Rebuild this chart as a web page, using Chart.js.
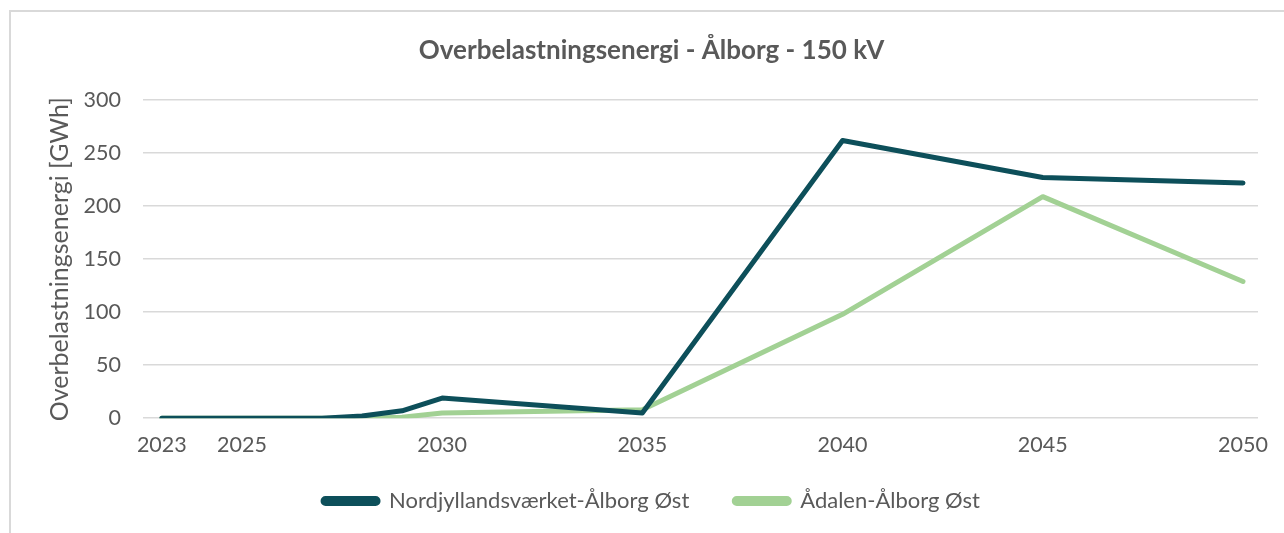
<!DOCTYPE html>
<html>
<head>
<meta charset="utf-8">
<script src="https://cdn.jsdelivr.net/npm/chart.js@4/dist/chart.umd.min.js"></script>
<style>
  body { margin: 0; background: #fff; }
  #wrap { position: absolute; left: 9px; top: 10px; width: 1285px; height: 530px; border: 2px solid #d9d9d9; }
  canvas { display: block; }
</style>
</head>
<body>
<div id="wrap"><canvas id="chart" width="1275" height="523"></canvas></div>
<script>
// values (GWh)
const nordYears = [2023, 2025, 2027, 2028, 2029, 2030, 2035, 2040, 2045, 2050];
const nordValues = [0, 0, 0, 2, 7, 19, 5, 262, 227, 222];
const aadalenYears = [2023, 2025, 2027, 2028, 2029, 2030, 2035, 2040, 2045, 2050];
const aadalenValues = [0, 0, 0, 0, 1, 5, 8, 98, 209, 129];
const xTicks = [2023, 2025, 2030, 2035, 2040, 2045, 2050];

const textColor = '#595959';
const fontFamily = 'Lato, "Open Sans", sans-serif';

const toPoints = (xs, ys) => xs.map((x, i) => ({x: x, y: ys[i]}));

new Chart(document.getElementById('chart'), {
    type: 'line',
    data: {
        datasets: [
            {
                label: 'Nordjyllandsværket-Ålborg Øst',
                data: toPoints(nordYears, nordValues),
                borderColor: '#0d4f5a',
                backgroundColor: '#0d4f5a',
                borderWidth: 5,
                pointRadius: 0,
                tension: 0,
                borderCapStyle: 'round',
                borderJoinStyle: 'round'
            },
            {
                label: 'Ådalen-Ålborg Øst',
                data: toPoints(aadalenYears, aadalenValues),
                borderColor: '#a2d194',
                backgroundColor: '#a2d194',
                borderWidth: 5,
                pointRadius: 0,
                tension: 0,
                borderCapStyle: 'round',
                borderJoinStyle: 'round'
            }
        ]
    },
    options: {
        responsive: false,
        animation: false,
        layout: {padding: {left: 34, right: 28, top: 19, bottom: 13}},
        plugins: {
            title: {
                display: true,
                text: 'Overbelastningsenergi - Ålborg - 150 kV',
                color: textColor,
                font: {family: fontFamily, size: 26, weight: 'bold'},
                padding: {top: 4, bottom: 34}
            },
            legend: {
                position: 'bottom',
                // empty title with negative padding: pulls the legend box up
                // under the tick labels without moving the legend items
                title: {
                    display: true,
                    text: '',
                    font: {size: 1, lineHeight: 1},
                    padding: {top: -20, bottom: 0}
                },
                labels: {
                    color: textColor,
                    font: {family: fontFamily, size: 22},
                    boxWidth: 55,
                    boxHeight: 5,
                    useBorderRadius: true,
                    borderRadius: 2.5,
                    padding: 45
                }
            },
            tooltip: {enabled: false}
        },
        scales: {
            x: {
                type: 'linear',
                min: 2022.53,
                max: 2050.375,
                afterBuildTicks: (scale) => {
                    scale.ticks = xTicks.map(v => ({value: v}));
                },
                grid: {display: false},
                border: {display: false},
                ticks: {
                    color: textColor,
                    font: {family: fontFamily, size: 21.5},
                    padding: 6,
                    maxRotation: 0,
                    autoSkip: false,
                    callback: (v) => String(v)
                }
            },
            y: {
                min: 0,
                max: 300,
                afterFit: (scale) => { scale.width = 98; },
                grid: {color: '#d9d9d9', lineWidth: 1.5, drawTicks: false},
                border: {display: false},
                ticks: {
                    stepSize: 50,
                    color: textColor,
                    font: {family: fontFamily, size: 21.5},
                    padding: 22
                },
                title: {
                    display: true,
                    text: 'Overbelastningsenergi [GWh]',
                    color: textColor,
                    font: {family: fontFamily, size: 25},
                    padding: 0
                }
            }
        }
    }
});
</script>
</body>
</html>
